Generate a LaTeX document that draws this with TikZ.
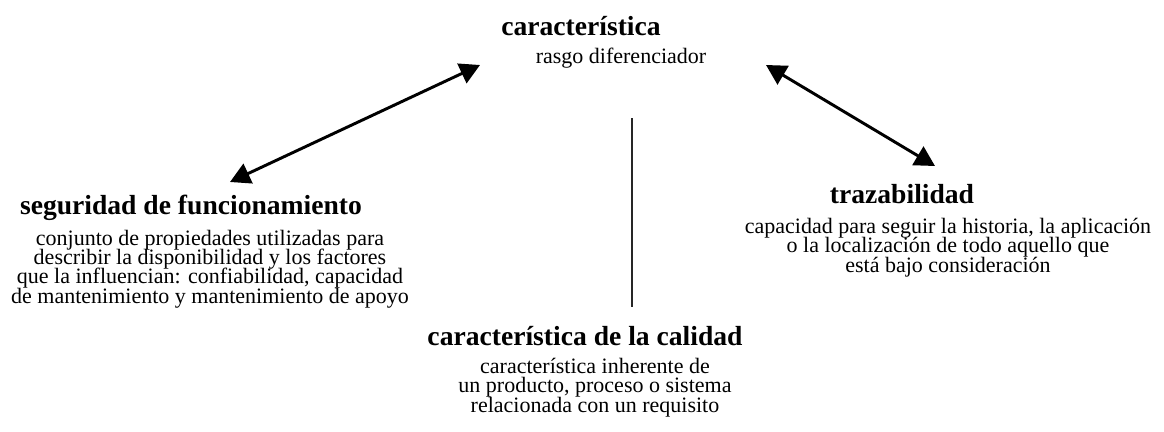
\documentclass[tikz,border=0pt]{standalone}
\usepackage{fontspec}
\setmainfont{Liberation Serif}
\usetikzlibrary{arrows.meta}

\newcommand\letracuerpo{\fontsize{16.5}{14.3}\selectfont\lineskiplimit=-20pt\relax}

\tikzset{
  titulo/.style={font=\fontsize{20.7}{22}\selectfont\bfseries, inner sep=0pt, anchor=base},
  texto/.style={font=\letracuerpo, align=center, inner sep=0pt, anchor=base},
  flecha/.style={{Triangle[length=15pt,width=16pt]}-{Triangle[length=15pt,width=16pt]}, line width=2.2pt},
  separa/.style={line width=1.4pt, black!85}
}

\begin{document}
\begin{tikzpicture}[x=0.75pt,y=-0.75pt]
    \useasboundingbox (0,0) rectangle (1164,432);
    % concepto central
    \node[titulo] (caract) at (581,35) {característica};
    \node[texto] (caractdef) at (621,63) {rasgo diferenciador};
    % izquierda
    \node[titulo] (seg) at (191,214) {seguridad de funcionamiento};
    \node[texto] (segdef) at (210,303) {conjunto de propiedades utilizadas para\\
        describir la disponibilidad y los factores\\
        que la influencian: confiabilidad, capacidad\\
        de mantenimiento y mantenimiento de apoyo};
    % derecha
    \node[titulo] (traz) at (902,203) {trazabilidad};
    \node[texto] (trazdef) at (948,272) {capacidad para seguir la historia, la aplicación\\
        o la localización de todo aquello que\\
        está bajo consideración};
    % abajo
    \node[titulo] (cal) at (585,345) {característica de la calidad};
    \node[texto] (caldef) at (595,412) {característica inherente de\\
        un producto, proceso o sistema\\
        relacionada con un requisito};
    % relaciones
    \draw[flecha] ([shift={(-101,30)}]caract.base) -- ([shift={(39,-32)}]seg.base);
    \draw[flecha] ([shift={(185,30)}]caract.base) -- ([shift={(33,-37)}]traz.base);
    \draw[separa] ([shift={(11,55)}]caractdef.base) -- ([shift={(47,-38)}]cal.base);
\end{tikzpicture}
\end{document}
